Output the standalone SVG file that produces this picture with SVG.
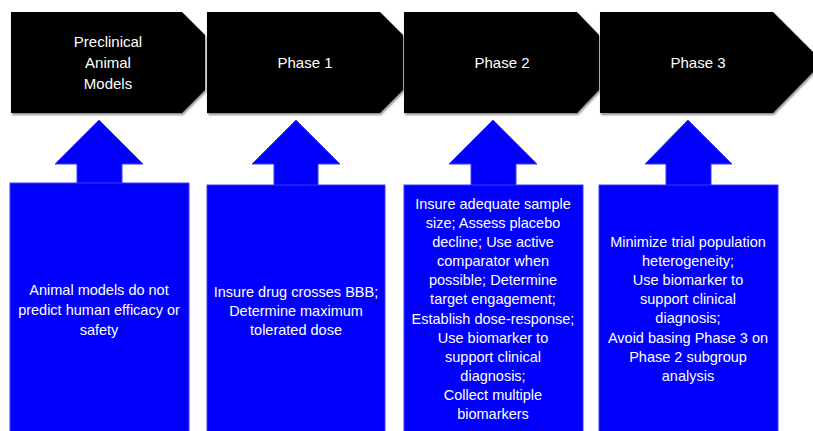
<svg xmlns="http://www.w3.org/2000/svg" width="813" height="431" viewBox="0 0 813 431">
<defs>
<filter id="sh" x="-5%" y="-5%" width="115%" height="120%">
<feDropShadow dx="1" dy="2" stdDeviation="1.2" flood-color="#000" flood-opacity="0.45"/>
</filter>
</defs>
<style>
.chev{fill:#000;filter:url(#sh)}
.blue{fill:#0000fb;stroke:#3a3aff;stroke-width:1}
.ht{font-family:"Liberation Sans",Arial,sans-serif;font-size:15px;fill:#fff;text-anchor:middle}
.bt{font-family:"Liberation Sans",Arial,sans-serif;font-size:14.5px;fill:#fff;text-anchor:middle}
</style>
<rect width="813" height="431" fill="#fff"/>
<g id="preclinical">
<path class="chev" d="M11,12 H182 L205,35 V90 L182,113 H11 Z"/>
<text class="ht" x="108" y="47">Preclinical</text>
<text class="ht" x="108" y="68">Animal</text>
<text class="ht" x="108" y="89">Models</text>
</g>
<g id="phase1">
<path class="chev" d="M207,12 H380 L403,35 V90 L380,113 H207 Z"/>
<text class="ht" x="305" y="68">Phase 1</text>
</g>
<g id="phase2">
<path class="chev" d="M404,12 H577 L599,35 V90 L577,113 H404 Z"/>
<text class="ht" x="502" y="68">Phase 2</text>
</g>
<g id="phase3">
<path class="chev" d="M600,12 H773 L823,62 L773,113 H600 Z"/>
<text class="ht" x="698" y="68">Phase 3</text>
</g>
<g id="connectors">
<path class="blue" d="M99,120 L143,164 H122 V184 H77 V164 H55 Z"/>
<path class="blue" d="M296,120 L340,164 H318 V186 H274 V164 H252 Z"/>
<path class="blue" d="M493,120 L537,164 H516 V186 H471 V164 H449 Z"/>
<path class="blue" d="M688,120 L732,164 H711 V186 H666 V164 H645 Z"/>
</g>
<g id="box-preclinical">
<rect class="blue" x="10" y="183" width="179" height="250"/>
<text class="bt" x="99" y="295">Animal models do not</text>
<text class="bt" x="99" y="315">predict human efficacy or</text>
<text class="bt" x="99" y="335">safety</text>
</g>
<g id="box-phase1">
<rect class="blue" x="207" y="185" width="178" height="250"/>
<text class="bt" x="296" y="297">Insure drug crosses BBB;</text>
<text class="bt" x="296" y="316">Determine maximum</text>
<text class="bt" x="296" y="335">tolerated dose</text>
</g>
<g id="box-phase2">
<rect class="blue" x="404" y="185" width="179" height="250"/>
<text class="bt" x="493" y="209">Insure adequate sample</text>
<text class="bt" x="493" y="228">size; Assess placebo</text>
<text class="bt" x="493" y="247">decline; Use active</text>
<text class="bt" x="493" y="266">comparator when</text>
<text class="bt" x="493" y="285">possible; Determine</text>
<text class="bt" x="493" y="304">target engagement;</text>
<text class="bt" x="493" y="324">Establish dose-response;</text>
<text class="bt" x="493" y="343">Use biomarker to</text>
<text class="bt" x="493" y="362">support clinical</text>
<text class="bt" x="493" y="381">diagnosis;</text>
<text class="bt" x="493" y="400">Collect multiple</text>
<text class="bt" x="493" y="419">biomarkers</text>
</g>
<g id="box-phase3">
<rect class="blue" x="599" y="185" width="179" height="250"/>
<text class="bt" x="688" y="247">Minimize trial population</text>
<text class="bt" x="688" y="266">heterogeneity;</text>
<text class="bt" x="688" y="285">Use biomarker to</text>
<text class="bt" x="688" y="304">support clinical</text>
<text class="bt" x="688" y="323">diagnosis;</text>
<text class="bt" x="688" y="343">Avoid basing Phase 3 on</text>
<text class="bt" x="688" y="362">Phase 2 subgroup</text>
<text class="bt" x="688" y="381">analysis</text>
</g>
</svg>
